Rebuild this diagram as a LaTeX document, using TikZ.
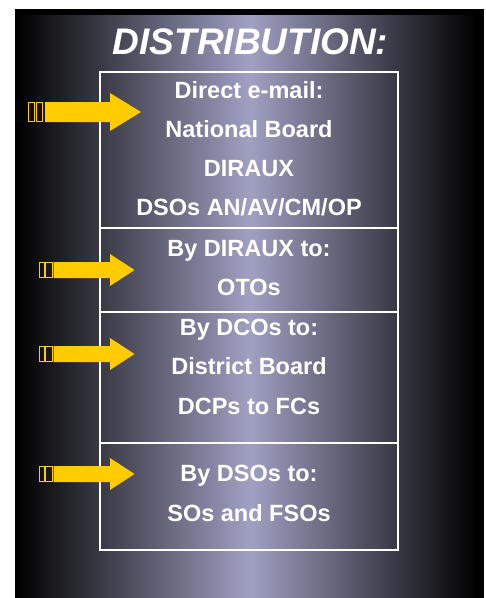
\documentclass[tikz,border=0pt]{standalone}
\usepackage{fontspec}
\setmainfont{Liberation Sans}
\definecolor{lav}{RGB}{160,160,194}
\definecolor{arrowyellow}{RGB}{255,204,0}
\begin{document}
\begin{tikzpicture}[x=1pt,y=-1pt,
  txt/.style={text=white,font=\fontsize{23.5}{28}\selectfont\bfseries,inner sep=0pt,anchor=base},
  frame/.style={draw=white,line width=2pt},
  tag/.style={draw=arrowyellow,line width=1pt},
  arr/.style={fill=arrowyellow}]
\useasboundingbox (0,0) rectangle (486,598);
\fill[white] (0,0) rectangle (486,598);
\fill[black] (15,9) rectangle (484,598);
\shade[left color=black,right color=lav] (16,15) rectangle (250.5,598);
\shade[left color=lav,right color=black] (250,15) rectangle (476,598);
% title
\node[txt,font=\fontsize{37}{42}\selectfont\bfseries\itshape] (title) at (250.5,54) {DISTRIBUTION:};
% frame
\draw[frame] (100,72) rectangle (398,550);
\draw[frame] (100,228) -- (398,228);
\draw[frame] (100,312) -- (398,312);
\draw[frame] (100,443) -- (398,443);
% texts
\node[txt] (t1) at (249,98) {Direct e-mail:};
\node[txt] (t2) at (249,137) {National Board};
\node[txt] (t3) at (249,176) {DIRAUX};
\node[txt] (t4) at (249,215) {DSOs AN/AV/CM/OP};
\node[txt] (t5) at (249,256) {By DIRAUX to:};
\node[txt] (t6) at (249,295) {OTOs};
\node[txt] (t7) at (249,335) {By DCOs to:};
\node[txt] (t8) at (249,374.5) {District Board};
\node[txt] (t9) at (249,414) {DCPs to FCs};
\node[txt] (t10) at (249,481) {By DSOs to:};
\node[txt] (t11) at (249,521) {SOs and FSOs};
% first arrow (large)
\draw[tag] (28.5,102.5) rectangle (34,121.5);
\draw[tag] (36,102.5) rectangle (42.5,121.5);
\fill[arr] (45,102) -- (110,102) -- (110,93) -- (141,112) -- (110,131) -- (110,122) -- (45,122) -- cycle;
% smaller arrows
\foreach \yy in {270,354,474}{
  \draw[tag] (39.5,\yy-7.5) rectangle (44,\yy+7.5);
  \draw[tag] (45.5,\yy-7.5) rectangle (52,\yy+7.5);
  \fill[arr] (53.5,\yy-8) -- (110,\yy-8) -- (110,\yy-16) -- (134.5,\yy) -- (110,\yy+16) -- (110,\yy+8) -- (53.5,\yy+8) -- cycle;
}
\end{tikzpicture}
\end{document}
